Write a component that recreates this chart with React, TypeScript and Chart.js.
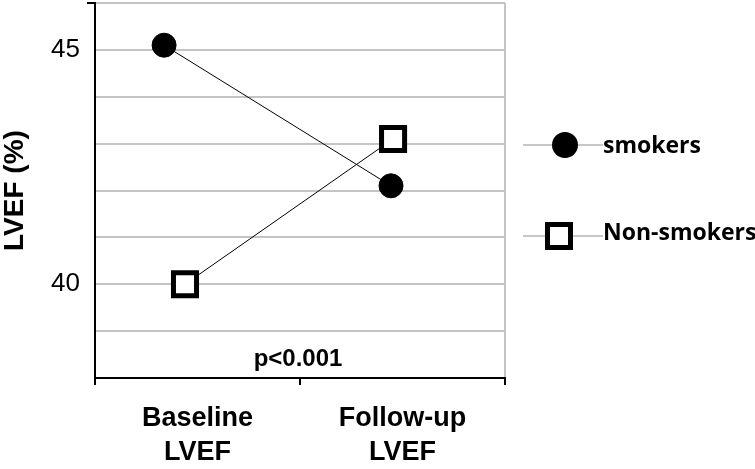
import React, { useEffect, useRef } from 'react';
import { Chart, registerables } from 'chart.js';

Chart.register(...registerables);

// ---------------- data ----------------
const categories: string[][] = [
  ['Baseline', 'LVEF'],
  ['Follow-up', 'LVEF'],
];
const seriesNames = ['smokers', 'Non-smokers'];
const smokers = [45.1, 42.1];
const nonSmokers = [40.0, 43.1];
const yTickLabels = [40, 45];
const yMin = 38;
const yMax = 46;
const yAxisTitle = 'LVEF (%)';
const pValueText = 'p<0.001';

// ---------------- layout / style ----------------
// horizontal placement of each marker inside its category band (fraction of band)
const smokerShift = [-0.163, -0.056];
const nonSmokerShift = [-0.061, -0.046];

const SANS = '"Liberation Sans", Arial, Helvetica, sans-serif';
const LEGEND_FONT = '"Open Sans", "Liberation Sans", sans-serif';
const GRID = '#c4c4c4';

const overlayPlugin = {
  id: 'overlay',
  afterDraw(chart: any) {
    const { ctx, chartArea, scales } = chart;
    ctx.save();
    // p-value
    ctx.font = `bold 24px ${SANS}`;
    ctx.fillStyle = '#000';
    ctx.textAlign = 'center';
    ctx.textBaseline = 'alphabetic';
    ctx.fillText(pValueText, scales.x.getPixelForValue(0.5) - 2, chartArea.bottom - 12);

    // legend
    const rows = [chartArea.top + 142, chartArea.top + 233];
    chart.data.datasets.forEach((ds: any, i: number) => {
      const y = rows[i];
      const x0 = chartArea.right + 18;
      ctx.strokeStyle = '#b4b4b4';
      ctx.lineWidth = 1.5;
      ctx.beginPath();
      ctx.moveTo(x0, y);
      ctx.lineTo(x0 + 80, y);
      ctx.stroke();
      if (ds.pointStyle === 'circle') {
        ctx.fillStyle = '#000';
        ctx.beginPath();
        ctx.arc(chartArea.right + 60, y, 13, 0, Math.PI * 2);
        ctx.fill();
      } else {
        const cx = chartArea.right + 54;
        ctx.fillStyle = '#fff';
        ctx.fillRect(cx - 11.5, y - 11.5, 23, 23);
        ctx.strokeStyle = '#000';
        ctx.lineWidth = 5;
        ctx.strokeRect(cx - 11.5, y - 11.5, 23, 23);
      }
      ctx.fillStyle = '#000';
      ctx.font = `bold 23px ${LEGEND_FONT}`;
      ctx.textAlign = 'left';
      ctx.textBaseline = 'alphabetic';
      ctx.fillText(ds.label, chartArea.right + 98, y + (i === 0 ? 8 : 4));
    });
    ctx.restore();
  },
};

export default function App() {
  const canvasRef = useRef<HTMLCanvasElement | null>(null);

  useEffect(() => {
    if (!canvasRef.current) return;
    const xMax = categories.length - 0.5;
    const chart = new Chart(canvasRef.current, {
      type: 'line',
      data: {
        datasets: [
          {
            label: seriesNames[0],
            data: smokers.map((v, i) => ({ x: i + smokerShift[i], y: v })),
            borderColor: '#000',
            borderWidth: 1,
            pointStyle: 'circle',
            pointRadius: 12,
            pointHoverRadius: 12,
            pointBackgroundColor: '#000',
            pointBorderColor: '#000',
            pointBorderWidth: 1,
            tension: 0,
            fill: false,
          },
          {
            label: seriesNames[1],
            data: nonSmokers.map((v, i) => ({ x: i + nonSmokerShift[i], y: v })),
            borderColor: '#000',
            borderWidth: 1,
            pointStyle: 'rect',
            pointRadius: 16.3,
            pointHoverRadius: 16.3,
            pointBackgroundColor: '#fff',
            pointBorderColor: '#000',
            pointBorderWidth: 5,
            tension: 0,
            fill: false,
          },
        ] as any,
      },
      options: {
        animation: false,
        responsive: false,
        devicePixelRatio: 1,
        layout: { autoPadding: false, padding: { left: 0, right: 250, top: 3, bottom: 0 } },
        plugins: {
          legend: { display: false },
          tooltip: { enabled: false },
        },
        scales: {
          x: {
            type: 'linear',
            min: -0.5,
            max: xMax,
            afterBuildTicks: (s: any) => {
              const t: any[] = [];
              for (let v = -0.5; v <= xMax + 1e-9; v += 0.5) t.push({ value: v });
              s.ticks = t;
            },
            ticks: {
              autoSkip: false,
              maxRotation: 0,
              minRotation: 0,
              color: '#000',
              padding: 17,
              font: { family: SANS, size: 27, weight: 'bold', lineHeight: 1.25 },
              callback: (v: any) => (Number.isInteger(v) ? categories[v] : ''),
            },
            grid: {
              color: (c: any) => (c.tick && c.tick.value === xMax ? GRID : 'rgba(0,0,0,0)'),
              lineWidth: 2,
              tickLength: 7,
              tickWidth: 2,
              tickColor: (c: any) => (c.tick && !Number.isInteger(c.tick.value) ? '#000' : 'rgba(0,0,0,0)'),
            },
            border: { display: true, color: '#000', width: 2 },
            afterFit: (s: any) => {
              s.height = 91;
              s.paddingLeft = 0;
              s.paddingRight = 0;
            },
          } as any,
          y: {
            type: 'linear',
            min: yMin,
            max: yMax,
            afterBuildTicks: (s: any) => {
              const t: any[] = [];
              for (let v = yMin; v <= yMax; v += 1) t.push({ value: v });
              s.ticks = t;
            },
            ticks: {
              autoSkip: false,
              color: '#000',
              padding: 7,
              font: { family: SANS, size: 26 },
              callback: (v: any) => (yTickLabels.includes(v) ? String(v) : ''),
            },
            grid: {
              color: (c: any) => (c.tick && c.tick.value === yMin ? 'rgba(0,0,0,0)' : GRID),
              lineWidth: 2,
              tickLength: 8,
              tickWidth: 2,
              tickColor: (c: any) => (c.tick && c.tick.value === yMax ? '#000' : 'rgba(0,0,0,0)'),
            },
            border: { display: true, color: '#000', width: 2 },
            title: {
              display: true,
              text: yAxisTitle,
              color: '#000',
              padding: 0,
              font: { family: SANS, size: 28, weight: 'bold', lineHeight: 1.1 },
            },
            afterFit: (s: any) => {
              s.width = 95;
              s.paddingTop = 0;
              s.paddingBottom = 0;
            },
          } as any,
        },
      } as any,
      plugins: [overlayPlugin],
    });
    return () => chart.destroy();
  }, []);

  return (
    <div style={{ position: 'absolute', left: 0, top: 0, width: 755, height: 469, background: '#fff' }}>
      <canvas ref={canvasRef} width={755} height={469} style={{ display: 'block' }} />
    </div>
  );
}
